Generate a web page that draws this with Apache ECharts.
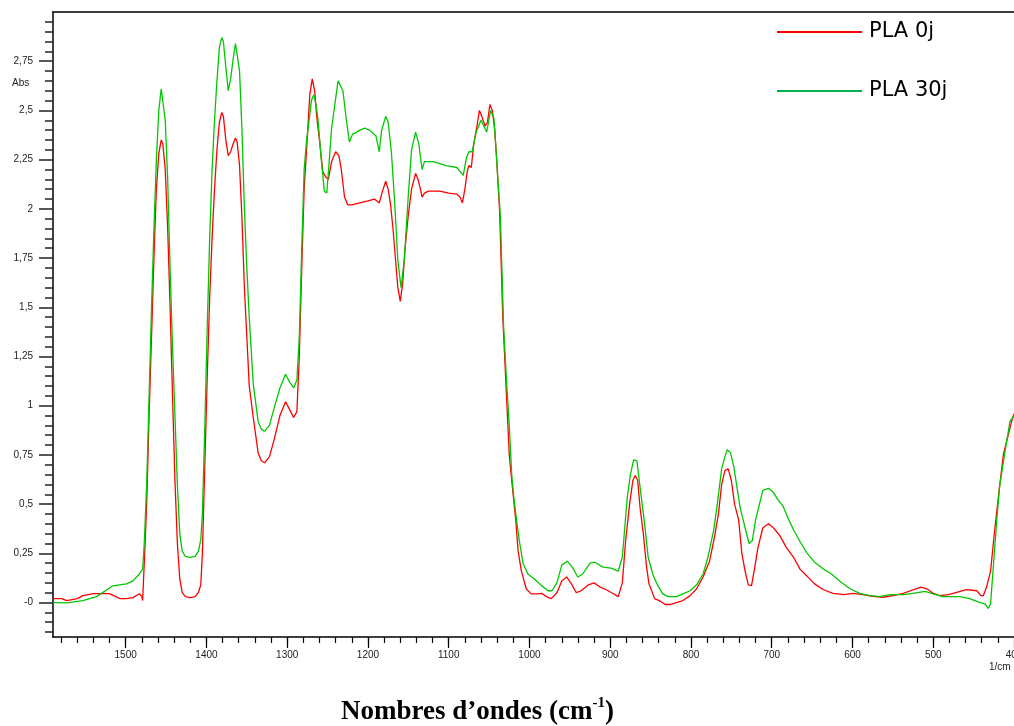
<!DOCTYPE html>
<html>
<head>
<meta charset="utf-8">
<title>PLA 0j / PLA 30j</title>
<script src="https://cdn.jsdelivr.net/npm/echarts@6/dist/echarts.min.js"></script>
<style>
  html, body { margin: 0; padding: 0; background: #fff; }
  #chart { width: 1014px; height: 726px; }
</style>
</head>
<body>
<div id="chart"></div>
<script>
// spectra: wavenumber (1/cm) and absorbance
const pla0Wn = [1590, 1579, 1573, 1560, 1553, 1540, 1520, 1507, 1499, 1491, 1483, 1480, 1479, 1477, 1474, 1471, 1468, 1465, 1462, 1459, 1456, 1454, 1451, 1448, 1445, 1442, 1439, 1436, 1433, 1430, 1426, 1420, 1414, 1410, 1407, 1405, 1402, 1399, 1396, 1393, 1390, 1387, 1384, 1381, 1379, 1376, 1373, 1370, 1367, 1364, 1362, 1359, 1356, 1353, 1350, 1347, 1342, 1336, 1332, 1328, 1322, 1316, 1309, 1302, 1297, 1292, 1288, 1285, 1282, 1279, 1276, 1272, 1269, 1266, 1263, 1260, 1256, 1252, 1249, 1245, 1240, 1236, 1233, 1229, 1225, 1220, 1210, 1200, 1192, 1186, 1182, 1178, 1175, 1172, 1169, 1166, 1163, 1160, 1157, 1154, 1150, 1146, 1141, 1138, 1135, 1133, 1130, 1125, 1111, 1100, 1090, 1086, 1083, 1080, 1077, 1075, 1072, 1069, 1065, 1062, 1059, 1055, 1052, 1049, 1046, 1043, 1041, 1037, 1033, 1029, 1025, 1021, 1017, 1014, 1010, 1004, 998, 991, 985, 979, 973, 966, 960, 954, 948, 942, 936, 927, 920, 913, 905, 897, 890, 885, 881, 876, 872, 869, 866, 863, 859, 855, 852, 845, 838, 832, 826, 818, 810, 801, 793, 785, 777, 771, 766, 762, 758, 754, 750, 746, 741, 737, 733, 729, 725, 721, 717, 711, 704, 698, 690, 682, 673, 665, 657, 647, 636, 624, 611, 599, 587, 575, 562, 550, 537, 525, 515, 508, 500, 492, 481, 471, 459, 446, 441, 438, 434, 429, 424, 418, 413, 409, 403, 400];
const pla0Abs = [0.02, 0.02, 0.01, 0.02, 0.035, 0.045, 0.045, 0.02, 0.02, 0.025, 0.045, 0.03, 0.01, 0.2, 0.5, 0.95, 1.35, 1.75, 2.1, 2.28, 2.35, 2.33, 2.2, 1.9, 1.5, 1.05, 0.62, 0.3, 0.12, 0.05, 0.03, 0.025, 0.03, 0.05, 0.09, 0.25, 0.7, 1.15, 1.55, 1.85, 2.1, 2.3, 2.44, 2.49, 2.47, 2.35, 2.27, 2.29, 2.33, 2.36, 2.34, 2.22, 1.95, 1.6, 1.35, 1.1, 0.94, 0.76, 0.72, 0.71, 0.74, 0.83, 0.95, 1.02, 0.98, 0.94, 0.97, 1.25, 1.7, 2.1, 2.3, 2.58, 2.66, 2.6, 2.45, 2.35, 2.19, 2.16, 2.15, 2.24, 2.29, 2.27, 2.2, 2.06, 2.02, 2.02, 2.03, 2.04, 2.05, 2.03, 2.09, 2.14, 2.1, 2.02, 1.9, 1.75, 1.6, 1.53, 1.62, 1.8, 1.97, 2.1, 2.18, 2.15, 2.1, 2.06, 2.08, 2.09, 2.09, 2.08, 2.075, 2.06, 2.03, 2.1, 2.19, 2.22, 2.21, 2.33, 2.42, 2.5, 2.47, 2.42, 2.44, 2.53, 2.5, 2.4, 2.28, 1.99, 1.45, 1.1, 0.75, 0.58, 0.42, 0.26, 0.16, 0.07, 0.044, 0.044, 0.047, 0.03, 0.02, 0.05, 0.11, 0.13, 0.095, 0.05, 0.06, 0.09, 0.1, 0.08, 0.065, 0.047, 0.03, 0.1, 0.31, 0.5, 0.62, 0.645, 0.62, 0.48, 0.35, 0.18, 0.095, 0.02, 0.007, -0.01, -0.01, 0, 0.01, 0.035, 0.07, 0.13, 0.21, 0.33, 0.45, 0.6, 0.67, 0.68, 0.62, 0.5, 0.42, 0.25, 0.16, 0.09, 0.086, 0.18, 0.28, 0.38, 0.4, 0.38, 0.34, 0.28, 0.23, 0.17, 0.137, 0.095, 0.065, 0.047, 0.04, 0.047, 0.04, 0.032, 0.027, 0.035, 0.047, 0.065, 0.078, 0.07, 0.047, 0.035, 0.04, 0.052, 0.066, 0.06, 0.035, 0.035, 0.078, 0.16, 0.365, 0.585, 0.755, 0.82, 0.92, 0.96];

const pla30Wn = [1590, 1573, 1553, 1536, 1516, 1499, 1491, 1483, 1479, 1477, 1474, 1471, 1468, 1465, 1462, 1459, 1456, 1454, 1451, 1448, 1445, 1442, 1439, 1436, 1433, 1430, 1426, 1420, 1414, 1410, 1407, 1405, 1402, 1399, 1396, 1393, 1390, 1387, 1384, 1381, 1379, 1376, 1373, 1370, 1367, 1364, 1362, 1359, 1356, 1353, 1350, 1347, 1342, 1336, 1332, 1328, 1322, 1316, 1309, 1302, 1297, 1292, 1288, 1285, 1282, 1279, 1276, 1274, 1270, 1267, 1264, 1262, 1258, 1254, 1251, 1248, 1245, 1241, 1237, 1235, 1231, 1227, 1223, 1219, 1214, 1210, 1204, 1198, 1190, 1186, 1183, 1178, 1175, 1171, 1167, 1163, 1159, 1155, 1150, 1146, 1141, 1137, 1133, 1130, 1119, 1103, 1090, 1082, 1078, 1075, 1071, 1066, 1060, 1053, 1048, 1044, 1040, 1036, 1032, 1028, 1025, 1022, 1019, 1016, 1012, 1008, 1002, 994, 985, 977, 972, 966, 960, 953, 947, 940, 934, 925, 919, 909, 899, 890, 885, 879, 875, 871, 867, 863, 858, 853, 847, 841, 835, 828, 818, 810, 801, 793, 785, 779, 772, 768, 762, 758, 755, 751, 747, 743, 739, 733, 728, 724, 720, 717, 711, 704, 698, 692, 686, 680, 673, 665, 657, 647, 636, 626, 616, 603, 591, 579, 566, 554, 537, 525, 510, 500, 488, 467, 455, 442, 436, 432, 429, 426, 422, 418, 411, 405, 400];
const pla30Abs = [0, -0.002, 0.01, 0.03, 0.085, 0.095, 0.11, 0.145, 0.17, 0.3, 0.6, 1.05, 1.5, 1.9, 2.25, 2.5, 2.61, 2.6, 2.45, 2.15, 1.7, 1.3, 0.95, 0.6, 0.35, 0.26, 0.235, 0.23, 0.235, 0.26, 0.32, 0.45, 0.9, 1.4, 1.85, 2.2, 2.45, 2.65, 2.82, 2.87, 2.85, 2.72, 2.6, 2.66, 2.76, 2.84, 2.83, 2.7, 2.4, 2.0, 1.7, 1.45, 1.11, 0.92, 0.88, 0.87, 0.9, 0.99, 1.09, 1.16, 1.12, 1.09, 1.13, 1.35, 1.8, 2.2, 2.35, 2.41, 2.55, 2.58, 2.52, 2.46, 2.26, 2.09, 2.08, 2.24, 2.41, 2.53, 2.65, 2.65, 2.6, 2.46, 2.34, 2.38, 2.39, 2.4, 2.41, 2.4, 2.37, 2.29, 2.4, 2.47, 2.44, 2.29, 2.04, 1.74, 1.6, 1.74, 2.07, 2.3, 2.39, 2.33, 2.2, 2.24, 2.24, 2.22, 2.21, 2.17, 2.26, 2.29, 2.29, 2.39, 2.45, 2.39, 2.5, 2.46, 2.21, 1.96, 1.4, 1.1, 0.9, 0.65, 0.52, 0.42, 0.3, 0.2, 0.145, 0.12, 0.086, 0.06, 0.06, 0.1, 0.19, 0.21, 0.18, 0.13, 0.145, 0.2, 0.205, 0.18, 0.175, 0.16, 0.23, 0.53, 0.65, 0.725, 0.72, 0.585, 0.42, 0.23, 0.14, 0.086, 0.044, 0.03, 0.03, 0.044, 0.06, 0.09, 0.145, 0.23, 0.365, 0.48, 0.68, 0.74, 0.777, 0.76, 0.69, 0.585, 0.48, 0.38, 0.3, 0.315, 0.42, 0.47, 0.57, 0.58, 0.56, 0.52, 0.49, 0.43, 0.37, 0.31, 0.255, 0.205, 0.17, 0.145, 0.11, 0.07, 0.047, 0.035, 0.03, 0.04, 0.04, 0.047, 0.057, 0.044, 0.03, 0.03, 0.02, 0, -0.007, -0.03, -0.007, 0.16, 0.38, 0.585, 0.77, 0.92, 0.95];

// tick positions
const xMajorTicks = [1500, 1400, 1300, 1200, 1100, 1000, 900, 800, 700, 600, 500, 400];
const yMajorTicks = [0, 0.25, 0.5, 0.75, 1, 1.25, 1.5, 1.75, 2, 2.25, 2.5, 2.75];
const xMinorTicks = [];
for (let v = 420; v <= 1580; v += 20) xMinorTicks.push(v);
const yMinorTicks = [];
for (let i = -3; i <= 59; i++) yMinorTicks.push(Math.round(i * 5) / 100);

const chart = echarts.init(document.getElementById('chart'));
const zip = (xs, ys) => xs.map((x, i) => [x, ys[i]]);

const tickFont = { fontFamily: 'Liberation Sans, Arial, sans-serif', fontSize: 10, color: '#222' };
const black = { color: '#000', width: 1.5 };

const xBase = { type: 'value', inverse: true, min: 400, max: 1590, splitLine: { show: false } };
const yBase = { type: 'value', min: -0.175, max: 3.0, splitLine: { show: false } };

const option = {
  animation: false,
  backgroundColor: '#fff',
  grid: { left: 53, right: 0, top: 12, bottom: 89, containLabel: false, outerBoundsMode: 'none' },
  legend: {
    orient: 'vertical',
    left: 777,
    top: 17,
    padding: 0,
    itemWidth: 85,
    itemHeight: 2,
    itemGap: 29,
    icon: 'rect',
    textStyle: { fontFamily: 'DejaVu Sans', fontSize: 21, color: '#000', lineHeight: 24, padding: [6, 0, 0, 2] },
    data: [
      { name: 'PLA 0j', itemStyle: { color: '#ff0000' } },
      { name: 'PLA 30j', itemStyle: { color: '#00b050' } }
    ]
  },
  xAxis: [
    Object.assign({}, xBase, {
      position: 'bottom',
      axisLine: { show: true, onZero: false, lineStyle: black },
      axisTick: { show: true, length: 11, customValues: xMajorTicks, lineStyle: { color: '#000', width: 1.2 } },
      axisLabel: Object.assign({ customValues: xMajorTicks, margin: 13, formatter: v => String(v) }, tickFont)
    }),
    Object.assign({}, xBase, {
      position: 'bottom',
      axisLine: { show: false, onZero: false },
      axisTick: { show: true, length: 6, customValues: xMinorTicks, lineStyle: { color: '#000', width: 1.2 } },
      axisLabel: { show: false }
    }),
    Object.assign({}, xBase, {
      position: 'top',
      axisLine: { show: true, onZero: false, lineStyle: black },
      axisTick: { show: false },
      axisLabel: { show: false }
    })
  ],
  yAxis: [
    Object.assign({}, yBase, {
      position: 'left',
      axisLine: { show: true, onZero: false, lineStyle: black },
      axisTick: { show: true, length: 14, customValues: yMajorTicks, lineStyle: { color: '#222', width: 1.5 } },
      axisLabel: Object.assign({
        customValues: yMajorTicks,
        margin: 20,
        formatter: v => (v === 0 ? '-0' : String(v).replace('.', ','))
      }, tickFont)
    }),
    Object.assign({}, yBase, {
      position: 'left',
      axisLine: { show: false, onZero: false },
      axisTick: { show: true, length: 8, customValues: yMinorTicks, lineStyle: { color: '#222', width: 1.5 } },
      axisLabel: { show: false }
    })
  ],
  graphic: [
    { type: 'text', left: 12, top: 78, style: { text: 'Abs', font: '10px "Liberation Sans", Arial, sans-serif', fill: '#222' } },
    { type: 'text', left: 989, top: 662, style: { text: '1/cm', font: '10px "Liberation Sans", Arial, sans-serif', fill: '#222' } },
    {
      type: 'text', left: 341, top: 696,
      style: {
        text: '{a|Nombres d\u2019ondes (cm}{b|-1}{a|)}',
        rich: {
          a: { fontFamily: 'Liberation Serif, Times New Roman, serif', fontWeight: 'bold', fontSize: 27, fill: '#000', verticalAlign: 'bottom', lineHeight: 30 },
          b: { fontFamily: 'Liberation Serif, Times New Roman, serif', fontWeight: 'bold', fontSize: 15, fill: '#000', verticalAlign: 'top', lineHeight: 30 }
        }
      }
    }
  ],
  series: [
    {
      name: 'PLA 0j', type: 'line', xAxisIndex: 0, yAxisIndex: 0,
      showSymbol: false, symbol: 'none',
      lineStyle: { color: '#ff0000', width: 1.3 },
      itemStyle: { color: '#ff0000' },
      data: zip(pla0Wn, pla0Abs)
    },
    {
      name: 'PLA 30j', type: 'line', xAxisIndex: 0, yAxisIndex: 0,
      showSymbol: false, symbol: 'none',
      lineStyle: { color: '#00c800', width: 1.3 },
      itemStyle: { color: '#00c800' },
      data: zip(pla30Wn, pla30Abs)
    }
  ]
};

chart.setOption(option);
</script>
</body>
</html>
